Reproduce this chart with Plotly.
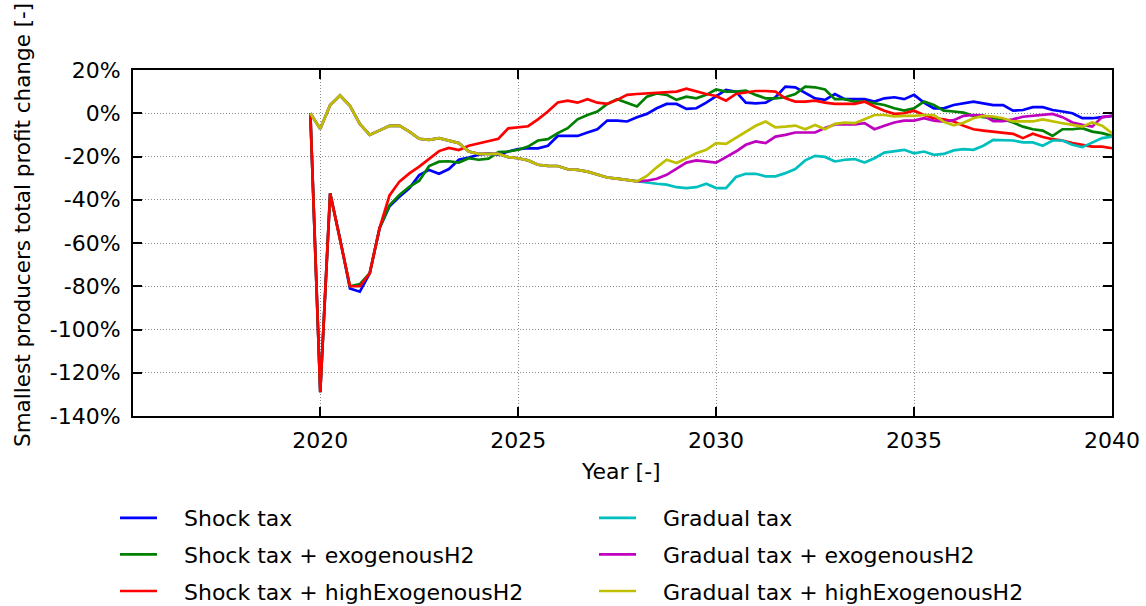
import plotly.graph_objects as go

# Quarterly time axis, 2019 Q4 through 2040
years = [2019.75 + 0.25 * i for i in range(82)]

# Total profit change of the smallest producers [%]
shock_tax = [
    0,
    -129, -37, -58, -81,
    -82.5, -74, -53, -43,
    -38.6, -34.7, -28.6, -26.2,
    -28, -25.8, -21.5, -20.5,
    -19.2, -18.5, -19.2, -17.7,
    -16.6, -16.2, -16.2, -15,
    -10.5, -10.5, -10.5, -8.9,
    -7.4, -3.4, -3.4, -3.8,
    -1.8, -0.3, 2.3, 4.3,
    4.3, 2, 2.3, 4.9,
    8, 10.8, 10, 4.9,
    4.6, 4.9, 7.4, 12.3,
    12, 9.5, 6.9, 6.2,
    8.9, 6.5, 6.5, 6.5,
    5.4, 6.9, 7.4, 6.5,
    8.5, 4.9, 2.3, 2.3,
    3.8, 4.6, 5.4, 4.6,
    3.8, 3.8, 1.2, 1.5,
    2.8, 2.8, 1.5, 0.8,
    0, -2.3, -2.3, -1.8,
    -1.2,
]

shock_exo = [
    0,
    -129, -37, -58, -80,
    -79, -74, -53, -42.5,
    -37.8, -34, -31.2, -24.4,
    -22.4, -22.2, -22.8, -20.8,
    -21.5, -21, -18, -17.7,
    -16.9, -15.4, -12.6, -12,
    -9.2, -6.9, -2.8, -0.8,
    0.8, 4.3, 6.5, 4.9,
    3.1, 7.7, 9.2, 8.5,
    6.2, 7.7, 6.9, 8.5,
    11, 10, 10, 10.5,
    8.5, 6.9, 6.9, 7.4,
    8.9, 12.3, 12, 11,
    6.5, 6.5, 5.4, 5.4,
    4.6, 3.8, 2.3, 1.2,
    2.3, 5.4, 3.8, 1.2,
    0.8, 0.3, -1.2, -1.8,
    -2.3, -2.8, -4.3, -6.2,
    -7.4, -8, -10.5, -7.4,
    -7.4, -6.9, -8.5, -9.2,
    -10.5,
]

shock_high = [
    0,
    -129, -37, -58, -80,
    -80, -74, -53, -38,
    -31.6, -27.8, -24.7, -21.3,
    -17.5, -16, -17, -15,
    -14, -12.8, -11.8, -7,
    -6.5, -6, -2.8, 0.8,
    5, 5.8, 4.9, 6.5,
    4.9, 4.3, 6.2, 8.5,
    8.9, 9.2, 9.2, 9.5,
    10, 11.4, 10, 8.9,
    8, 5.8, 8.9, 9.5,
    10.3, 10.3, 10, 6.9,
    5.4, 5.4, 5.8, 4.9,
    4.3, 4.3, 4.3, 5.4,
    3.1, 1.2, -0.3, 0,
    1.2, -0.8, -2.3, -2.8,
    -3.8, -5.8, -7.4, -8,
    -8.5, -9.2, -9.5, -11.5,
    -9.5, -11, -12, -12.6,
    -13.8, -14.6, -15.4, -15.4,
    -16.2,
]

# The three gradual scenarios share the same path up to 2027 Q4
gradual_common = [
    0,
    -7.2, 3.8, 8.2, 3.4,
    -4.9, -10, -8, -5.8,
    -5.7, -8.5, -11.8, -12.3,
    -11.5, -12.6, -13.8, -17.7,
    -18.8, -18.8, -18.8, -20.3,
    -20.8, -21.8, -23.8, -24.3,
    -24.4, -25.9, -26.2, -27,
    -28.5, -29.7, -30.2, -30.8,
]

gradual_tax = gradual_common + [
    -31.5, -32.3, -32.6, -33,
    -34.2, -34.6, -34.2, -32.6,
    -34.6, -34.6, -29.5, -28,
    -28, -29.2, -29.2, -27.7,
    -25.8, -21.8, -19.7, -20.2,
    -22.3, -21.5, -21.2, -22.8,
    -20.8, -18.2, -17.7, -16.9,
    -18.5, -17.7, -19.2, -18.8,
    -17.2, -16.6, -16.9, -15,
    -12.3, -12.6, -12.6, -13.5,
    -13.5, -15, -12.6, -12.6,
    -14.6, -15.7, -13.5, -11.5,
    -10.8,
]

gradual_exo = gradual_common + [
    -31.5, -31.2, -30.3, -28.5,
    -25.8, -22.8, -21.8, -22.3,
    -22.8, -20.3, -17.7, -14.6,
    -13, -13.8, -10.8, -10,
    -8.9, -8.9, -8.9, -6.8,
    -5.2, -5.2, -5.2, -4.6,
    -7.4, -5.8, -4.3, -3.4,
    -3.4, -2.3, -3.4, -3.9,
    -3.2, -1.2, -0.8, -1,
    -3.6, -3.6, -2.8, -1.6,
    -1.2, -0.9, -0.3, -1.8,
    -4.3, -5.4, -6.2, -1.8,
    -1.2,
]

gradual_high = gradual_common + [
    -31.5, -29, -25, -21.5,
    -23, -20.8, -18.5, -16.9,
    -13.8, -14.2, -11.5, -8.5,
    -5.8, -3.8, -6.5, -6.2,
    -5.7, -7.4, -5.4, -7.4,
    -4.9, -4.3, -4.6, -2.8,
    -0.8, -0.8, -1.5, -1.2,
    -1.2, -0.8, -0.8, -3.9,
    -5.6, -4.4, -2.3, -1.2,
    -1.5, -2.3, -3.8, -3.8,
    -3.8, -2.8, -3.8, -4.6,
    -5.4, -6.2, -4.3, -5.8,
    -9.2,
]

x_ticks = [2020, 2025, 2030, 2035, 2040]
x_labels = ["2020", "2025", "2030", "2035", "2040"]
y_ticks = [20, 0, -20, -40, -60, -80, -100, -120, -140]
y_labels = ["20%", "0%", "-20%", "-40%", "-60%", "-80%", "-100%", "-120%", "-140%"]

series = [
    ("Shock tax", shock_tax, "#0000ff", "legend"),
    ("Shock tax + exogenousH2", shock_exo, "#008000", "legend"),
    ("Shock tax + highExogenousH2", shock_high, "#ff0000", "legend"),
    ("Gradual tax", gradual_tax, "#00bfbf", "legend2"),
    ("Gradual tax + exogenousH2", gradual_exo, "#bf00bf", "legend2"),
    ("Gradual tax + highExogenousH2", gradual_high, "#bfbf00", "legend2"),
]

FONT = "DejaVu Sans"
PAD = "\u2002\u2002"  # gap between legend sample line and label

fig = go.Figure()
for name, values, color, leg in series:
    fig.add_trace(go.Scatter(
        x=years, y=values, mode="lines", name=PAD + name,
        line=dict(color=color, width=2.7),
        legend=leg, legendgroup=name,
    ))

axis_common = dict(
    showline=True, linecolor="black", linewidth=2, mirror="ticks",
    ticks="inside", ticklen=9, tickwidth=1.5, tickcolor="black",
    showgrid=True, gridcolor="#8a8a8a", gridwidth=1, griddash="1px,2px",
    zeroline=False,
    tickfont=dict(family=FONT, size=22, color="black"),
)

fig.update_xaxes(range=[2015.27, 2040], tickvals=x_ticks, ticktext=x_labels,
                 ticklabelstandoff=4, **axis_common)
fig.update_yaxes(range=[-140, 20], tickvals=y_ticks, ticktext=y_labels,
                 ticklabelstandoff=6, **axis_common)

legend_common = dict(
    orientation="v", xanchor="left", yanchor="top",
    xref="container", yref="container",
    font=dict(family=FONT, size=22, color="black"),
    bgcolor="rgba(0,0,0,0)", borderwidth=0,
    tracegroupgap=5, itemwidth=37,
)

fig.update_layout(
    width=1146, height=606,
    margin=dict(l=133, r=34, t=70, b=190, autoexpand=False),
    plot_bgcolor="white", paper_bgcolor="white",
    font=dict(family=FONT, size=22, color="black"),
    showlegend=True,
    legend=dict(x=115 / 1146, y=1 - 497 / 606, **legend_common),
    legend2=dict(x=594 / 1146, y=1 - 497 / 606, **legend_common),
    annotations=[
        dict(text="Smallest producers total profit change [-]",
             xref="paper", yref="paper", x=(22 - 133) / 979, y=(416 - 225) / 346,
             xanchor="center", yanchor="middle", textangle=-90, showarrow=False,
             font=dict(family=FONT, size=21.5, color="black")),
        dict(text="Year [-]",
             xref="paper", yref="paper", x=(621 - 133) / 979, y=(416 - 471) / 346,
             xanchor="center", yanchor="middle", showarrow=False,
             font=dict(family=FONT, size=22, color="black")),
    ],
)

fig.write_html("out.html")
